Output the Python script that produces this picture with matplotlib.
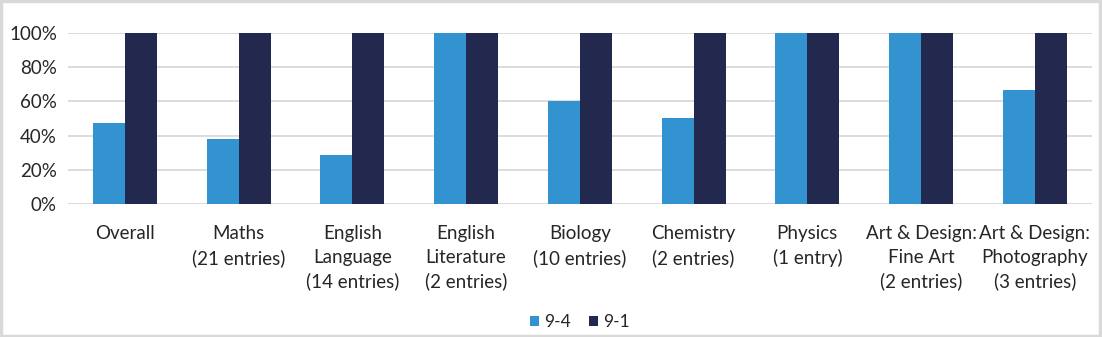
import numpy as np
import matplotlib.pyplot as plt
from matplotlib.ticker import PercentFormatter

plt.rcParams['font.family'] = ['Lato', 'DejaVu Sans']

subjects = ['Overall', 'Maths\n(21 entries)', 'English\nLanguage\n(14 entries)',
            'English\nLiterature\n(2 entries)', 'Biology\n(10 entries)',
            'Chemistry\n(2 entries)', 'Physics\n(1 entry)',
            'Art & Design:\nFine Art\n(2 entries)', 'Art & Design:\nPhotography\n(3 entries)']
pass_9_4 = [47.6, 38.1, 28.6, 100, 60, 50, 100, 100, 66.7]
pass_9_1 = [100, 100, 100, 100, 100, 100, 100, 100, 100]

light_blue = '#3392d0'
navy = '#22284e'

fig = plt.figure(figsize=(11.02, 3.37), dpi=100)
ax = fig.add_axes([0.0617, 0.3947, 0.929, 0.5074])

x = np.arange(len(subjects))
w = 0.282
ax.bar(x - w / 2, pass_9_4, w, color=light_blue, label='9-4', zorder=3)
ax.bar(x + w / 2, pass_9_1, w, color=navy, label='9-1', zorder=3)

ax.set_xlim(-0.5, len(subjects) - 0.5)
ax.set_ylim(0, 100)
ax.set_yticks(range(0, 101, 20))
ax.yaxis.set_major_formatter(PercentFormatter(decimals=0))
ax.grid(axis='y', color='#d9d9d9', linewidth=1.3, zorder=0)
for s in ax.spines.values():
    s.set_visible(False)
ax.tick_params(length=0, labelsize=13.5, colors='#262626', pad=8)
ax.tick_params(axis='x', pad=15)
ax.set_xticks(x)
ax.set_xticklabels(subjects, linespacing=1.48)

ax.legend(loc='lower center', bbox_to_anchor=(0.5, -0.83), ncol=2, frameon=False,
          fontsize=12.5, handlelength=0.55, handleheight=0.55, handletextpad=0.3,
          columnspacing=1.0, labelcolor='#262626')

# chart border
fig.patches.append(plt.Rectangle((0.001, 0.003), 0.997, 0.993, transform=fig.transFigure,
                                 fill=False, edgecolor='#d9d9d9', linewidth=2.5))

fig.savefig('out.png', dpi=100)
